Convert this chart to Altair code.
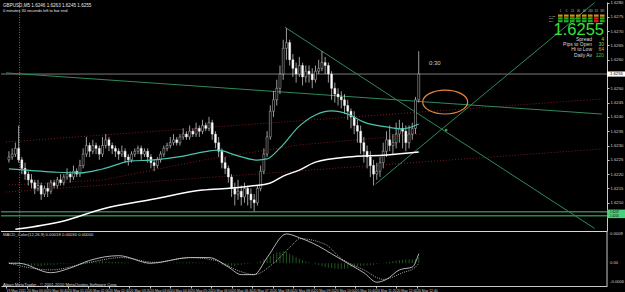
import json
import pandas as pd
import altair as alt

FONT = "Liberation Sans"

# ---------------- candle data (GBPUSD M5) ----------------
opens = [1.6225, 1.6226, 1.6227, 1.6229, 1.6225, 1.6222, 1.6220, 1.6218, 1.6217, 1.6215,
         1.6216, 1.6213, 1.6215, 1.6214, 1.6217, 1.6216, 1.6218, 1.6217, 1.6219, 1.6220,
         1.6219, 1.6221, 1.6220, 1.6223, 1.6227, 1.6230, 1.6228, 1.6230, 1.6229, 1.6227,
         1.6230, 1.6232, 1.6230, 1.6229, 1.6228, 1.6227, 1.6228, 1.6226, 1.6225, 1.6227,
         1.6228, 1.6229, 1.6227, 1.6228, 1.6226, 1.6224, 1.6223, 1.6225, 1.6227, 1.6229,
         1.6230, 1.6231, 1.6232, 1.6231, 1.6233, 1.6234, 1.6233, 1.6235, 1.6234, 1.6236,
         1.6235, 1.6237, 1.6236, 1.6238, 1.6234, 1.6231, 1.6228, 1.6224, 1.6222, 1.6219,
         1.6215, 1.6213, 1.6214, 1.6212, 1.6215, 1.6213, 1.6211, 1.6210, 1.6215, 1.6221,
         1.6227, 1.6233, 1.6242, 1.6246, 1.6250, 1.6255, 1.6264, 1.6266, 1.6260, 1.6257,
         1.6255, 1.6258, 1.6254, 1.6256, 1.6255, 1.6253, 1.6256, 1.6257, 1.6259, 1.6258,
         1.6255, 1.6250, 1.6248, 1.6247, 1.6246, 1.6244, 1.6242, 1.6240, 1.6237, 1.6235,
         1.6231, 1.6228, 1.6226, 1.6223, 1.6220, 1.6221, 1.6224, 1.6228, 1.6232, 1.6230,
         1.6231, 1.6234, 1.6236, 1.6235, 1.6231, 1.6234, 1.6236, 1.6246]
closes = [1.6226, 1.6227, 1.6229, 1.6225, 1.6222, 1.6220, 1.6218, 1.6217, 1.6215, 1.6216,
          1.6213, 1.6215, 1.6214, 1.6217, 1.6216, 1.6218, 1.6217, 1.6219, 1.6220, 1.6219,
          1.6221, 1.6220, 1.6223, 1.6227, 1.6230, 1.6228, 1.6230, 1.6229, 1.6227, 1.6230,
          1.6232, 1.6230, 1.6229, 1.6228, 1.6227, 1.6228, 1.6226, 1.6225, 1.6227, 1.6228,
          1.6229, 1.6227, 1.6228, 1.6226, 1.6224, 1.6223, 1.6225, 1.6227, 1.6229, 1.6230,
          1.6231, 1.6232, 1.6231, 1.6233, 1.6234, 1.6233, 1.6235, 1.6234, 1.6236, 1.6235,
          1.6237, 1.6236, 1.6238, 1.6234, 1.6231, 1.6228, 1.6224, 1.6222, 1.6219, 1.6215,
          1.6213, 1.6214, 1.6212, 1.6215, 1.6213, 1.6211, 1.6210, 1.6215, 1.6221, 1.6227,
          1.6233, 1.6242, 1.6246, 1.6250, 1.6255, 1.6264, 1.6266, 1.6260, 1.6257, 1.6255,
          1.6258, 1.6254, 1.6256, 1.6255, 1.6253, 1.6256, 1.6257, 1.6259, 1.6258, 1.6255,
          1.6250, 1.6248, 1.6247, 1.6246, 1.6244, 1.6242, 1.6240, 1.6237, 1.6235, 1.6231,
          1.6228, 1.6226, 1.6223, 1.6220, 1.6221, 1.6224, 1.6228, 1.6232, 1.6230, 1.6231,
          1.6234, 1.6236, 1.6235, 1.6231, 1.6234, 1.6236, 1.6246, 1.6255]
highs = [1.6228, 1.6229, 1.6231, 1.6237, 1.6226, 1.6224, 1.6221, 1.6220, 1.6218, 1.6218,
         1.6217, 1.6216, 1.6217, 1.6218, 1.6218, 1.6219, 1.6220, 1.6220, 1.6222, 1.6221,
         1.6223, 1.6222, 1.6225, 1.6229, 1.6233, 1.6231, 1.6232, 1.6231, 1.6230, 1.6233,
         1.6234, 1.6233, 1.6231, 1.6230, 1.6229, 1.6230, 1.6229, 1.6227, 1.6228, 1.6229,
         1.6230, 1.6230, 1.6229, 1.6229, 1.6227, 1.6225, 1.6226, 1.6228, 1.6230, 1.6231,
         1.6233, 1.6234, 1.6233, 1.6234, 1.6236, 1.6235, 1.6237, 1.6236, 1.6238, 1.6237,
         1.6239, 1.6238, 1.6240, 1.6239, 1.6235, 1.6233, 1.6229, 1.6226, 1.6223, 1.6220,
         1.6217, 1.6218, 1.6216, 1.6217, 1.6216, 1.6215, 1.6213, 1.6216, 1.6223, 1.6229,
         1.6235, 1.6244, 1.6249, 1.6253, 1.6258, 1.6267, 1.6271, 1.6267, 1.6262, 1.6259,
         1.6261, 1.6259, 1.6258, 1.6258, 1.6257, 1.6258, 1.6260, 1.6263, 1.6261, 1.6259,
         1.6256, 1.6252, 1.6250, 1.6249, 1.6248, 1.6246, 1.6243, 1.6242, 1.6239, 1.6237,
         1.6233, 1.6230, 1.6228, 1.6225, 1.6224, 1.6226, 1.6231, 1.6235, 1.6237, 1.6234,
         1.6238, 1.6239, 1.6238, 1.6237, 1.6237, 1.6238, 1.6247, 1.6263]
lows = [1.6224, 1.6225, 1.6226, 1.6224, 1.6220, 1.6218, 1.6216, 1.6215, 1.6213, 1.6214,
        1.6211, 1.6212, 1.6212, 1.6213, 1.6215, 1.6215, 1.6216, 1.6216, 1.6218, 1.6217,
        1.6218, 1.6219, 1.6219, 1.6222, 1.6226, 1.6226, 1.6227, 1.6227, 1.6225, 1.6226,
        1.6229, 1.6228, 1.6227, 1.6226, 1.6225, 1.6226, 1.6224, 1.6223, 1.6224, 1.6226,
        1.6227, 1.6225, 1.6226, 1.6224, 1.6222, 1.6221, 1.6222, 1.6224, 1.6226, 1.6228,
        1.6229, 1.6230, 1.6230, 1.6230, 1.6232, 1.6232, 1.6232, 1.6233, 1.6233, 1.6233,
        1.6234, 1.6235, 1.6235, 1.6232, 1.6229, 1.6226, 1.6222, 1.6220, 1.6217, 1.6212,
        1.6209, 1.6211, 1.6209, 1.6210, 1.6209, 1.6208, 1.6207, 1.6209, 1.6214, 1.6220,
        1.6226, 1.6232, 1.6240, 1.6244, 1.6248, 1.6253, 1.6260, 1.6258, 1.6254, 1.6252,
        1.6254, 1.6251, 1.6252, 1.6252, 1.6250, 1.6252, 1.6255, 1.6256, 1.6255, 1.6252,
        1.6246, 1.6245, 1.6244, 1.6243, 1.6241, 1.6239, 1.6236, 1.6234, 1.6231, 1.6227,
        1.6224, 1.6222, 1.6219, 1.6216, 1.6218, 1.6219, 1.6222, 1.6226, 1.6228, 1.6227,
        1.6229, 1.6231, 1.6229, 1.6228, 1.6229, 1.6232, 1.6234, 1.6245]

# ---------------- indicator lines (bar index, price) ----------------
teal_ma_i = [0, 14, 22, 29, 38, 44, 54, 60, 65, 70, 77, 80, 84, 90, 95, 100, 105, 110, 117, 122, 127]
teal_ma_p = [1.62218, 1.62207, 1.62204, 1.62218, 1.62246, 1.62249, 1.62263, 1.62277, 1.62284, 1.62267,
             1.62249, 1.62253, 1.62291, 1.62368, 1.62407, 1.62421, 1.62410, 1.62382, 1.62365, 1.62358, 1.62375]
white_ma_i = [2, 17, 29, 45, 60, 69, 75, 81, 85, 90, 95, 105, 117, 127]
white_ma_p = [1.62007, 1.62036, 1.62078, 1.62113, 1.62144, 1.62151, 1.62158, 1.62169, 1.62193, 1.62214,
              1.62242, 1.62260, 1.62267, 1.62277]

green_long_i = [-0.9, 183.8]
green_long_p = [1.62554, 1.62410]
green_down_i = [85.5, 181.5]
green_down_p = [1.62714, 1.62010]
green_up_i = [113.6, 181.5]
green_up_p = [1.62165, 1.62800]
red_a_i = [-0.9, 183.8]
red_a_p = [1.62312, 1.62463]
red_b_i = [-0.9, 183.8]
red_b_p = [1.62137, 1.62288]
red_c_i = [0, 29, 60, 90, 128]
red_c_p = [1.62162, 1.62179, 1.62249, 1.62302, 1.62340]

bid_price = 1.6255
support_prices = [1.62068, 1.62054]
support_labels = ["1.6207", "1.6205"]
ellipse_i, ellipse_p = 135.2, 1.62452
cross_i, cross_p = 135.5, 1.62354
day_sep_i = 3.3

# ---------------- MACD ----------------
macd_main_i = [0, 3, 13, 19, 25, 34, 44, 56, 62, 68, 72, 76, 80, 86, 90, 96, 100, 106, 110, 114, 117, 121, 125, 127]
macd_main_v = [0.0, 0.0, -0.0003, -0.00015, 0.00009, 0.00024, 0.0, 0.00018, 0.00018, -0.00012, -0.00036,
               -0.00036, 0.00018, 0.00093, 0.00081, 0.00054, 0.0003, -0.00006, -0.0003, -0.0006, -0.00051,
               -0.00021, -0.00012, 0.0003]
macd_sig_i = [0, 13, 25, 35, 45, 56, 64, 72, 76, 82, 88, 90, 98, 103, 110, 116, 122, 126, 127]
macd_sig_v = [0.0, -0.00021, 0.00003, 0.00018, 0.00003, 0.00018, 0.00009, -0.00027, -0.00036, 0.0, 0.0006,
              0.00078, 0.0006, 0.00015, -0.00021, -0.00051, -0.0003, -0.00012, 0.0]
macd_hist = [0.00003, 0.00003, 0.00003, 0.00003,
             -0.00003, -0.00005, -0.00006, -0.00008, -0.00008, -0.00009, -0.00009,
             -0.00006, -0.00006, -0.00005, -0.00005, -0.00004, -0.00003, -0.00003, -0.00002, -0.00001, -0.00001, 0.0, 0.00001,
             0.00002, 0.00004, 0.00005, 0.00006, 0.00006, 0.00006, 0.00007, 0.00006, 0.00006, 0.00005, 0.00005, 0.00004, 0.00004,
             0.00003, 0.00002, 0.00001, 0.0, -0.00001, -0.00001, -0.00002, -0.00003, -0.00003, -0.00003, -0.00002, -0.00001,
             0.0, 0.00001, 0.00002, 0.00002, 0.00003, 0.00003, 0.00003, 0.00003, 0.00003, 0.00003, 0.00002, 0.00002, 0.00002, 0.00001, 0.00001,
             0.0, -0.00001, -0.00003, -0.00005, -0.00006, -0.00007, -0.00008, -0.00008, -0.00006, -0.00005, -0.00003, -0.00002, -0.00001, 0.0,
             0.00003, 0.00007, 0.00012, 0.00017, 0.00024, 0.00030, 0.00034, 0.00036, 0.00038, 0.00036,
             0.00030, 0.00025, 0.00020, 0.00015, 0.00010, 0.00006, 0.00003, 0.0, -0.00003, -0.00006, -0.00009, -0.00012, -0.00014,
             -0.00015, -0.00017, -0.00018, -0.00018, -0.00017, -0.00016, -0.00014, -0.00012, -0.00010, -0.00009, -0.00008, -0.00007, -0.00006, -0.00005,
             -0.00003, -0.00001, 0.00001, 0.00003, 0.00005, 0.00007, 0.00009, 0.00010, 0.00011, 0.00012, 0.00012, 0.00012, 0.00013, 0.00018]
macd_label_v = [0.00093, 0.0, -0.00060]
macd_label_t = ["0.0009", "0.00", "-0.0006"]

# ---------------- axes labels ----------------
# (1.6255 and 1.6205 are shown by the highlighted price boxes)
price_ticks = [1.6210, 1.6215, 1.6220, 1.6225, 1.6230, 1.6235, 1.6240,
               1.6245, 1.6250, 1.6260, 1.6265, 1.6270, 1.6275, 1.6280]
time_tick_i = [-0.9, 5.45, 11.82, 18.18, 24.55, 30.91, 37.27, 43.64, 50.0, 56.36, 62.73,
               69.09, 75.45, 81.82, 88.18, 94.55, 100.91, 107.27, 113.64, 120.0, 126.36]
time_labels = ["19 May 2011", "20 May 00:00", "20 May 00:40", "20 May 01:20", "20 May 02:00",
               "20 May 02:40", "20 May 03:20", "20 May 04:00", "20 May 04:40", "20 May 05:20",
               "20 May 06:00", "20 May 06:40", "20 May 07:20", "20 May 08:00", "20 May 08:40",
               "20 May 09:20", "20 May 10:00", "20 May 10:40", "20 May 11:20", "20 May 12:00",
               "20 May 12:40"]

# dashboard
dash_cols = ["1", "5", "15", "30", "60", "240", "D1", "W1"]
dash_rows = ["MACD", "STR", "EMA"]
dash_state = [["o", "o", "o", "o", "o", "o", "o", "o"],
              ["g", "g", "g", "g", "g", "g", "r", "g"],
              ["g", "g", "g", "g", "g", "g", "r", "g"]]
stat_names = ["Spread", "Pips to Open", "Hi to Low", "Daily Av"]
stat_values = ["4", "30", "64", "120"]

# ---------------- build frames ----------------
n = len(closes)
bars = pd.DataFrame({"i": list(range(n)), "o": opens[:n], "h": highs[:n], "l": lows[:n], "c": closes[:n]})


def line_df(name, xs, ps):
    return pd.DataFrame({"name": [name] * len(xs), "i": xs, "p": ps})


green_df = pd.concat([line_df("long", green_long_i, green_long_p),
                      line_df("down", green_down_i, green_down_p),
                      line_df("up", green_up_i, green_up_p)])
red_df = pd.concat([line_df("a", red_a_i, red_a_p),
                    line_df("b", red_b_i, red_b_p),
                    line_df("c", red_c_i, red_c_p)])
teal_df = pd.DataFrame({"i": teal_ma_i, "p": teal_ma_p})
white_df = pd.DataFrame({"i": white_ma_i, "p": white_ma_p})
macd_main_df = pd.DataFrame({"i": macd_main_i, "m": macd_main_v})
macd_sig_df = pd.DataFrame({"i": macd_sig_i, "m": macd_sig_v})
hist_df = pd.DataFrame({"i": list(range(len(macd_hist))), "m": macd_hist, "z": [0.0] * len(macd_hist)})
one = pd.DataFrame({"a": [0]})

# ---------------- scales / axes ----------------
xs = alt.Scale(domain=[-0.91, 183.8], nice=False, zero=False)
x_axis = alt.Axis(values=time_tick_i,
                  labelExpr=f"{json.dumps(time_labels)}[indexof({json.dumps(time_tick_i)}, datum.value)]",
                  orient="bottom", title=None, grid=False, tickSize=2, labelPadding=0,
                  labelFontSize=3.4, labelColor="#d0d0d0", labelAlign="left", labelBaseline="top",
                  domainColor="#c8c8c8", tickColor="#c8c8c8", labelOverlap=False, labelFlush=False,
                  labelFont=FONT)
ym = alt.Scale(domain=[1.62001, 1.62802], range=[229, 0], nice=False, zero=False)
y_axis = alt.Axis(orient="right", values=price_ticks, format=".4f", title=None, grid=False,
                  tickSize=2, labelPadding=1, labelFontSize=4.2, labelColor="#d0d0d0",
                  domainColor="#c8c8c8", tickColor="#c8c8c8", labelOverlap=False, labelFlush=False,
                  labelFont=FONT)
ymacd = alt.Scale(domain=[-0.00072, 0.00099], range=[{"expr": "height"}, 230], nice=False, zero=False)


def X(f="i"):
    return alt.X(f"{f}:Q", scale=xs, axis=x_axis, title=None)


def YM(f):
    return alt.Y(f"{f}:Q", scale=ym, axis=y_axis, title=None)


def YD(f):
    return alt.Y(f"{f}:Q", scale=ymacd, axis=None, title=None)


# ---------------- main panel ----------------
support_layer = alt.Chart(pd.DataFrame({"p": support_prices})).mark_rule(
    color="#4fc27a", strokeWidth=1).encode(y=YM("p"), x=alt.value(0), x2=alt.value("width"))
bid_layer = alt.Chart(pd.DataFrame({"p": [bid_price]})).mark_rule(
    color="#9a9a9a", strokeWidth=0.8).encode(y=YM("p"), x=alt.value(0), x2=alt.value("width"))
red_layer = alt.Chart(red_df).mark_line(color="#7e1c1c", strokeDash=[1, 2], strokeWidth=1).encode(
    x=X(), y=YM("p"), detail="name:N")
green_layer = alt.Chart(green_df).mark_line(color="#2f8a58", strokeWidth=1).encode(
    x=X(), y=YM("p"), detail="name:N")
sep_layer = alt.Chart(pd.DataFrame({"i": [day_sep_i]})).mark_rule(
    color="#8a8a8a", strokeDash=[1, 1.5], strokeWidth=0.8).encode(x=X(), y=alt.value(0), y2=alt.value("height"))
wick_layer = alt.Chart(bars).mark_rule(color="#e0e0e0", strokeWidth=0.7).encode(
    x=X(), y=YM("l"), y2="h:Q")
body_layer = alt.Chart(bars).mark_bar(size=2, stroke="#f0f0f0", strokeWidth=0.4, orient="vertical").encode(
    x=X(), y=YM("o"), y2="c:Q",
    color=alt.condition("datum.c >= datum.o", alt.value("#000000"), alt.value("#ffffff")))
teal_layer = alt.Chart(teal_df).mark_line(color="#4cc3ae", strokeWidth=1.2, interpolate="monotone").encode(
    x=X(), y=YM("p"))
white_layer = alt.Chart(white_df).mark_line(color="#ffffff", strokeWidth=1.5, interpolate="monotone").encode(
    x=X(), y=YM("p"))
ellipse_layer = alt.Chart(pd.DataFrame({"i": [ellipse_i], "p": [ellipse_p]})).mark_point(
    shape="M-1,0A1,0.53,0,1,1,1,0A1,0.53,0,1,1,-1,0Z", size=2025, filled=False,
    color="#e8843c", strokeWidth=1.2, opacity=1).encode(x=X(), y=YM("p"))
cross_layer = alt.Chart(pd.DataFrame({"i": [cross_i], "p": [cross_p]})).mark_circle(
    size=8, color="#3a9a5a", opacity=1).encode(x=X(), y=YM("p"))

bid_box = alt.Chart(pd.DataFrame({"p": [bid_price]})).transform_calculate(
    top="datum.p + 0.00009", bot="datum.p - 0.00009").mark_rect(color="#ffffff").encode(
    y=YM("top"), y2="bot:Q", x=alt.value("width"), x2=alt.value(625))
bid_txt = alt.Chart(pd.DataFrame({"p": [bid_price], "t": ["1.6255"]})).mark_text(
    align="left", baseline="middle", dx=3, fontSize=4.2, color="#000000", font=FONT).encode(
    y=YM("p"), x=alt.value("width"), text="t:N")
sup_box = alt.Chart(pd.DataFrame({"p": support_prices})).transform_calculate(
    top="datum.p + 0.00008", bot="datum.p - 0.00008").mark_rect(color="#48d07c").encode(
    y=YM("top"), y2="bot:Q", x=alt.value("width"), x2=alt.value(625))
sup_txt = alt.Chart(pd.DataFrame({"p": support_prices, "t": support_labels})).mark_text(
    align="left", baseline="middle", dx=3, fontSize=2.9, color="#000000", font=FONT).encode(
    y=YM("p"), x=alt.value("width"), text="t:N")

main = alt.layer(support_layer, bid_layer, red_layer, green_layer, sep_layer, wick_layer, body_layer,
                 teal_layer, white_layer, ellipse_layer, cross_layer, bid_box, bid_txt, sup_box, sup_txt)

# ---------------- MACD panel ----------------
hist_layer = alt.Chart(hist_df).mark_rule(color="#1f571f", strokeWidth=1).encode(
    x=X(), y=YD("m"), y2="z:Q")
macd_line = alt.Chart(macd_main_df).mark_line(color="#e0e0e0", strokeWidth=0.8, interpolate="monotone").encode(
    x=X(), y=YD("m"))
sig_line = alt.Chart(macd_sig_df).mark_line(color="#d8d8d8", strokeWidth=0.8, strokeDash=[1, 1.2],
                                            interpolate="monotone").encode(x=X(), y=YD("m"))
macd_lbl = alt.Chart(pd.DataFrame({"m": macd_label_v, "t": macd_label_t})).mark_text(
    align="left", baseline="middle", dx=3, fontSize=4.2, color="#d0d0d0", font=FONT).encode(
    y=YD("m"), x=alt.value("width"), text="t:N")
macd = alt.layer(hist_layer, macd_line, sig_line, macd_lbl)


# ---------------- annotations ----------------
def txt(s, x, y, size, color, align="left", baseline="middle"):
    return alt.Chart(one).mark_text(text=s, align=align, baseline=baseline, fontSize=size,
                                    color=color, font=FONT).encode(x=alt.value(x), y=alt.value(y))


annots = [
    alt.Chart(one).mark_rule(color="#d8d8d8", strokeWidth=1).encode(
        y=alt.value(229.5), x=alt.value(0), x2=alt.value("width")),
    alt.Chart(one).mark_rule(color="#c8c8c8", strokeWidth=1).encode(
        x=alt.value("width"), y=alt.value(229), y2=alt.value("height")),
    txt("GBPUSD,M5  1.6246 1.6263 1.6245 1.6255", 2, 4, 4.6, "#e6e6e6"),
    txt("0 minutes 30 seconds left to bar end", 2, 8.8, 4.0, "#e6e6e6"),
    txt("0:30", 428, 61, 6, "#cfcfcf"),
    txt("1.6255", 603, 32.5, 16.5, "#39e039", align="right", baseline="alphabetic"),
    txt("MACD_Color(12,26,9) 0.00018 0.00030 0.00000", 2, 232.5, 4.2, "#dcdcdc"),
    txt("Alpari MetaTrader - \u00a9 2001-2010 MetaQuotes Software Corp.", 2, 282.5, 4.2, "#dcdcdc"),
]
stat_colors = ["#d8b800", "#8fcf3f", "#c8a040", "#3fc03f"]
for k, (nm, val) in enumerate(zip(stat_names, stat_values)):
    yk = 37 + 5.2 * k
    annots.append(txt(nm, 591, yk, 5.0, "#dadada", align="right"))
    annots.append(txt(val, 603, yk, 5.0, stat_colors[k], align="right"))

cell_colors = {"o": "#d98c1a", "g": "#22b022", "r": "#cc2020"}
for c, name in enumerate(dash_cols):
    annots.append(txt(name, 559.5 + 6 * c, 9.5, 2.6, "#c8c8c8", align="center"))
for r, name in enumerate(dash_rows):
    annots.append(txt(name, 548, 13.6 + 2.8 * r, 2.2, "#c8c8c8"))
    for c in range(len(dash_cols)):
        x0 = 557 + 6 * c
        y0 = 12.5 + 2.8 * r
        annots.append(alt.Chart(one).mark_rect(color=cell_colors[dash_state[r][c]]).encode(
            x=alt.value(x0), x2=alt.value(x0 + 4.6), y=alt.value(y0), y2=alt.value(y0 + 2.2)))

chart = alt.layer(main, macd, *annots).resolve_scale(y="independent").properties(
    width=625, height=292,
    autosize=alt.AutoSizeParams(type="fit", contains="padding"),
    background="#000000", padding=0,
).configure_view(stroke=None)

chart.save("out.html", embed_options={"renderer": "svg", "actions": False})
